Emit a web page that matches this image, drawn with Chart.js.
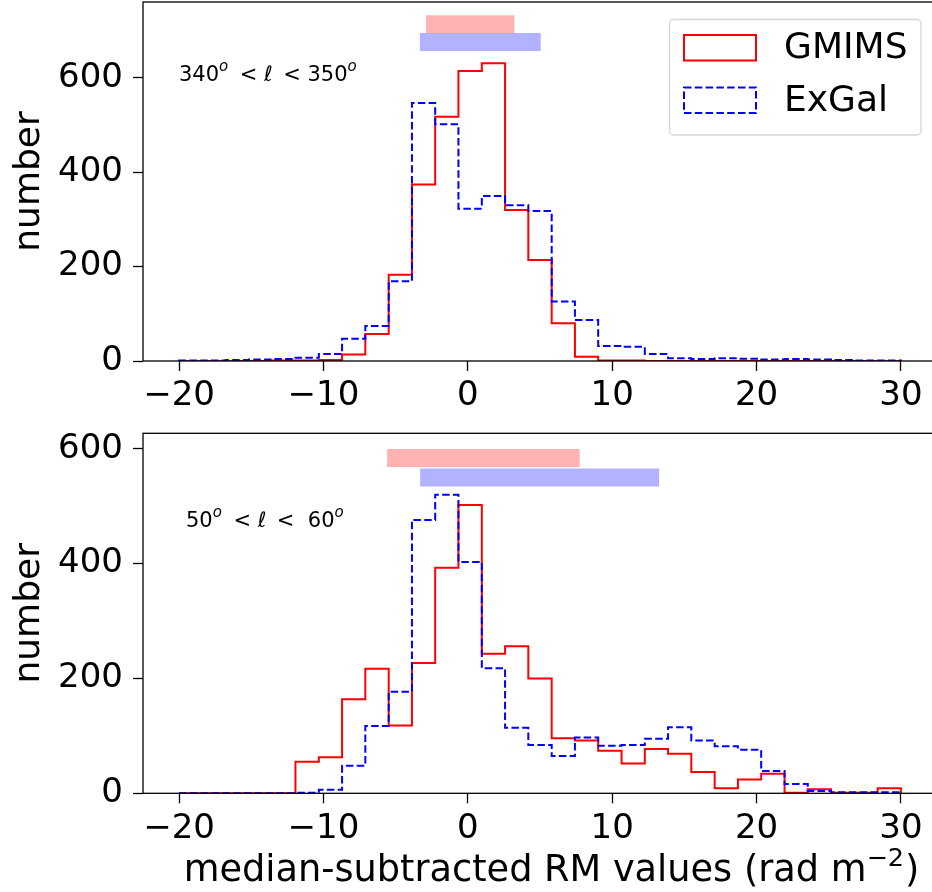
<!DOCTYPE html>
<html>
<head>
<meta charset="utf-8">
<script src="https://cdn.jsdelivr.net/npm/chart.js@4.4.0/dist/chart.umd.min.js"></script>
<style>
    html, body { margin: 0; padding: 0; background: #fff; overflow: hidden; }
    #wrap { position: relative; width: 932px; height: 892px; overflow: hidden; }
    canvas { position: absolute; left: 0; }
    #panel-top { top: 0; }
    #panel-bottom { top: 420px; }
</style>
</head>
<body>
<div id="wrap">
    <canvas id="panel-top" width="938" height="420"></canvas>
    <canvas id="panel-bottom" width="938" height="472"></canvas>
</div>
<script>
// Bin edges shared by both histograms (rad m^-2), 31 bins between -20 and 30
const binEdges = [-20, -18.39, -16.77, -15.16, -13.55, -11.94, -10.32, -8.71, -7.10, -5.48,
    -3.87, -2.26, -0.65, 0.97, 2.58, 4.19, 5.81, 7.42, 9.03, 10.65, 12.26, 13.87,
    15.48, 17.10, 18.71, 20.32, 21.94, 23.55, 25.16, 26.77, 28.39, 30];

// Counts per bin, panel 340 < l < 350
const gmimsTop = [0, 0, 0, 0, 1, 1, 2, 14, 57, 183, 374, 518, 615, 631, 320, 214,
    80, 9, 1, 1, 0, 0, 0, 0, 0, 0, 0, 0, 0, 0, 0];
const exgalTop = [1, 1, 2, 3, 4, 7, 15, 47, 74, 169, 547, 502, 323, 350, 330, 318,
    126, 87, 32, 30, 15, 6, 4, 6, 5, 3, 4, 3, 2, 1, 1];

// Counts per bin, panel 50 < l < 60
const gmimsBottom = [0, 0, 0, 0, 0, 55, 63, 164, 217, 118, 227, 393, 502, 243, 256, 200,
    96, 92, 74, 52, 77, 69, 37, 9, 24, 34, 1, 7, 1, 1, 9];
const exgalBottom = [0, 0, 0, 0, 0, 1, 6, 48, 117, 177, 476, 520, 403, 218, 114, 84,
    65, 97, 83, 84, 95, 115, 92, 82, 76, 39, 16, 4, 2, 2, 2];

// Spread bars above each histogram: [low, high, height]
const spreadGmimsTop = [-2.9, 3.23, 714];
const spreadExgalTop = [-3.32, 5.05, 676];
const spreadGmimsBottom = [-5.59, 7.75, 584];
const spreadExgalBottom = [-3.30, 13.25, 550];

// Axis ranges and tick labels
const xRange = [-22.5, 32.5];
const xTicks = [-20, -10, 0, 10, 20, 30];
const yTicks = [0, 200, 400, 600];
const yMaxTop = 761;
const yMaxBottom = 627;

const seriesNames = ['GMIMS', 'ExGal'];
const yTitle = 'number';
// x axis title, written as pieces (sup = superscript)
const xTitle = [{ t: 'median-subtracted RM values (rad m' }, { t: '\u22122', sup: true }, { t: ')' }];

// Panel labels (en spaces before the relation signs, like mathtext)
const labelTop = [{ t: '340' }, { t: 'o', sup: true }, { t: '\u2002< ' }, { t: '\u2113' }, { t: '\u2002< ' }, { t: '350' }, { t: 'o', sup: true }];
const labelBottom = [{ t: '50' }, { t: 'o', sup: true }, { t: '\u2002< ' }, { t: '\u2113' }, { t: '\u2002<  ' }, { t: '60' }, { t: 'o', sup: true }];

const FONT = 'DejaVu Sans';
Chart.defaults.font.family = FONT;
Chart.defaults.color = '#000';

/**
 * Turns per-bin counts into the outline of a matplotlib "step" histogram.
 */
function toSteps(counts) {
    const last = binEdges.length - 1;
    const pts = [{ x: binEdges[0], y: 0 }, { x: binEdges[0], y: counts[0] }];
    counts.forEach((c, i) => pts.push({ x: binEdges[i + 1], y: c }));
    pts.push({ x: binEdges[last], y: 0 });
    return pts;
}

function minusSign(v) {
    return v < 0 ? '\u2212' + Math.abs(v) : String(v);
}

/**
 * Draws text pieces one after the other; superscripts smaller and raised.
 */
function drawPieces(ctx, pieces, x, y, st, align) {
    const fontOf = p => p.sup ? `${st.supStyle} ${st.supSize}px "${FONT}"` : `${st.size}px "${FONT}"`;
    let width = 0;
    pieces.forEach(p => { ctx.font = fontOf(p); width += ctx.measureText(p.t).width; });
    let cx = align === 'center' ? x - width / 2 : x;
    ctx.textAlign = 'left';
    ctx.textBaseline = 'alphabetic';
    pieces.forEach(p => {
        ctx.font = fontOf(p);
        ctx.fillText(p.t, cx, p.sup ? y - st.raise : y);
        cx += ctx.measureText(p.t).width + (p.sup ? 1 : 0);
    });
}

// Black box around the plot area (all four spines)
const framePlugin = {
    id: 'frame',
    afterDraw(chart) {
        const { ctx, chartArea: a } = chart;
        ctx.save();
        ctx.strokeStyle = '#000';
        ctx.lineWidth = 1.3;
        ctx.strokeRect(a.left, a.top, a.right - a.left, a.bottom - a.top);
        ctx.restore();
    }
};

// Panel label and (optionally) the x axis title
const textPlugin = {
    id: 'texts',
    afterDraw(chart, args, opts) {
        const ctx = chart.ctx;
        ctx.save();
        ctx.fillStyle = '#000';
        drawPieces(ctx, opts.label, opts.labelX, opts.labelY,
            { size: 21, supSize: 15, supStyle: 'italic', raise: 10 }, 'left');
        if (opts.xTitle) {
            drawPieces(ctx, opts.xTitle, opts.xTitleX, opts.xTitleY,
                { size: 36.7, supSize: 25.5, supStyle: '', raise: 15 }, 'center');
        }
        ctx.restore();
    }
};

// matplotlib-like legend box with outline patches
const boxLegendPlugin = {
    id: 'boxLegend',
    afterDraw(chart, args, opts) {
        if (!opts.show) return;
        const ctx = chart.ctx;
        const items = chart.data.datasets.filter(d => d.inLegend);
        ctx.save();
        ctx.beginPath();
        ctx.roundRect(669.5, 19.5, 251.5, 115.5, 4);
        ctx.fillStyle = 'rgba(255,255,255,0.8)';
        ctx.fill();
        ctx.strokeStyle = '#d6d6d6';
        ctx.lineWidth = 1.3;
        ctx.stroke();
        items.forEach((d, i) => {
            const y = 35 + i * 52.5;
            ctx.setLineDash(d.borderDash || []);
            ctx.strokeStyle = d.borderColor;
            ctx.lineWidth = 2;
            ctx.strokeRect(684, y, 72, 25.5);
            ctx.setLineDash([]);
            ctx.fillStyle = '#000';
            ctx.font = `36px "${FONT}"`;
            ctx.textBaseline = 'middle';
            ctx.fillText(d.label, 784, y + 14);
        });
        ctx.restore();
    }
};

function spreadLine(spread, color) {
    return {
        data: [{ x: spread[0], y: spread[2] }, { x: spread[1], y: spread[2] }],
        borderColor: color,
        borderWidth: 18,
        borderCapStyle: 'butt',
        pointRadius: 0,
        order: 2
    };
}

/**
 * Builds one histogram panel.
 */
function makePanel(canvasId, cfg) {
    const ctx = document.getElementById(canvasId).getContext('2d');
    return new Chart(ctx, {
        type: 'line',
        data: {
            datasets: [
                {
                    label: seriesNames[0],
                    inLegend: true,
                    data: toSteps(cfg.gmims),
                    borderColor: '#ff0000',
                    borderWidth: 2,
                    stepped: 'after',
                    pointRadius: 0,
                    order: 1
                },
                {
                    label: seriesNames[1],
                    inLegend: true,
                    data: toSteps(cfg.exgal),
                    borderColor: '#0000ff',
                    borderWidth: 2,
                    borderDash: [7.5, 3.3],
                    stepped: 'after',
                    pointRadius: 0,
                    order: 0
                },
                spreadLine(cfg.spreadGmims, 'rgba(255,0,0,0.3)'),
                spreadLine(cfg.spreadExgal, 'rgba(0,0,255,0.3)')
            ]
        },
        options: {
            responsive: false,
            animation: false,
            layout: { padding: { top: cfg.padTop, right: 1, left: 0, bottom: 0 } },
            scales: {
                x: {
                    type: 'linear',
                    min: xRange[0],
                    max: xRange[1],
                    afterBuildTicks: s => { s.ticks = xTicks.map(v => ({ value: v })); },
                    afterFit: s => {
                        s.height = cfg.xHeight;
                        s.paddingLeft = 0;
                        s.paddingRight = 0;
                    },
                    ticks: { font: { size: 34 }, padding: 5, maxRotation: 0, callback: minusSign },
                    grid: { drawOnChartArea: false, tickLength: 10, tickWidth: 1.3, tickColor: '#000' },
                    border: { display: false }
                },
                y: {
                    min: 0,
                    max: cfg.yMax,
                    afterBuildTicks: s => { s.ticks = yTicks.map(v => ({ value: v })); },
                    afterFit: s => {
                        s.width = 143;
                        s.paddingTop = 0;
                        s.paddingBottom = 0;
                    },
                    ticks: { font: { size: 34 }, padding: 10 },
                    grid: { drawOnChartArea: false, tickLength: 10, tickWidth: 1.3, tickColor: '#000' },
                    border: { display: false },
                    title: {
                        display: true,
                        text: yTitle,
                        font: { size: 36 },
                        padding: { top: 8, bottom: 0 }
                    }
                }
            },
            plugins: {
                legend: { display: false },
                tooltip: { enabled: false },
                texts: {
                    label: cfg.label, labelX: cfg.labelX, labelY: cfg.labelY,
                    xTitle: cfg.xTitle, xTitleX: 551, xTitleY: 461
                },
                boxLegend: { show: cfg.showLegend }
            }
        },
        plugins: [framePlugin, textPlugin, boxLegendPlugin]
    });
}

makePanel('panel-top', {
    gmims: gmimsTop,
    exgal: exgalTop,
    spreadGmims: spreadGmimsTop,
    spreadExgal: spreadExgalTop,
    yMax: yMaxTop,
    padTop: 2,
    xHeight: 59,
    xTitle: null,
    showLegend: true,
    label: labelTop,
    labelX: 179,
    labelY: 81
});

makePanel('panel-bottom', {
    gmims: gmimsBottom,
    exgal: exgalBottom,
    spreadGmims: spreadGmimsBottom,
    spreadExgal: spreadExgalBottom,
    yMax: yMaxBottom,
    padTop: 13.3,
    xHeight: 98.7,
    xTitle: xTitle,
    showLegend: false,
    label: labelBottom,
    labelX: 186,
    labelY: 107
});
</script>
</body>
</html>
